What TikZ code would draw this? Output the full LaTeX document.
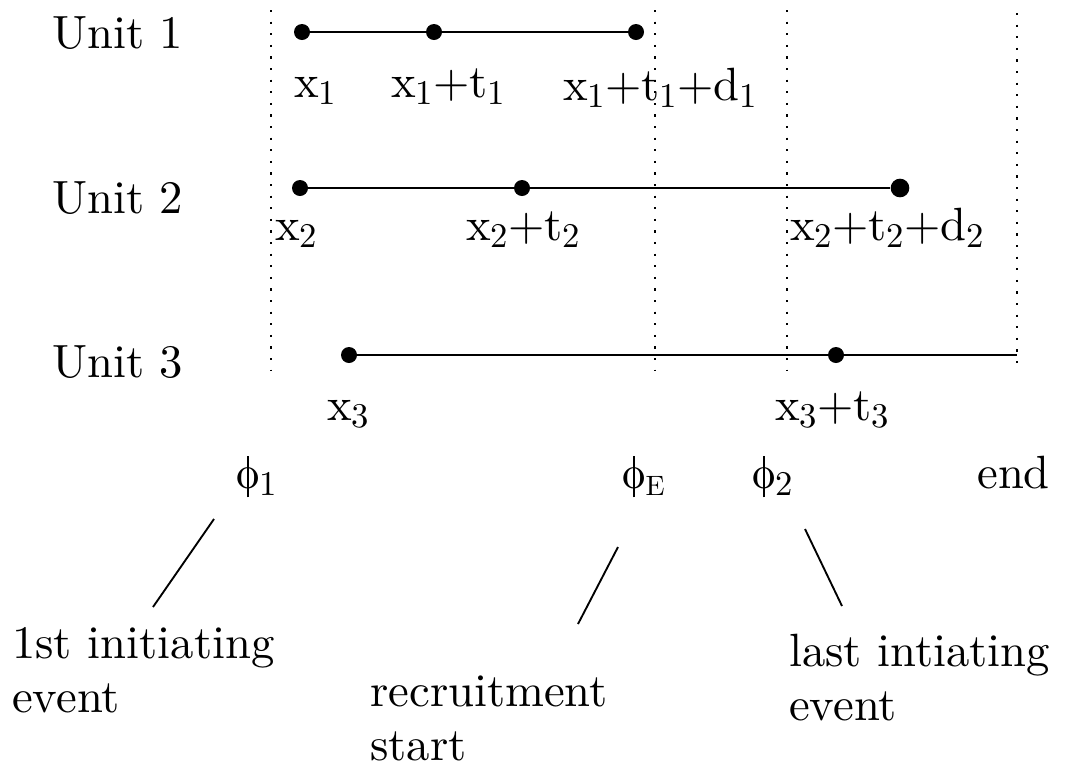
\documentclass[tikz,border=0pt]{standalone}
\usepackage{fontspec}
\setmainfont{lmroman10-regular.otf}
\newcommand\sbs[1]{\raisebox{-0.15em}{\fontsize{26}{26}\selectfont #1}}
\newcommand\phisym{\ooalign{o\cr\hidewidth\rule[-0.2em]{0.06em}{0.88em}\hidewidth\cr}}
\begin{document}
\begin{tikzpicture}[x=0.75pt,y=-0.75pt,
  lbl/.style={font=\fontsize{35}{35}\selectfont, inner sep=0pt, anchor=base west},
  blk/.style={font=\fontsize{35}{40.5}\selectfont, inner sep=0pt, anchor=base west, align=left},
  dot/.style={circle, fill=black, inner sep=0pt, minimum size=12pt},
  tl/.style={line width=2pt},
  vl/.style={line width=2.2pt, dash pattern=on 1.6pt off 7.1pt},
  pl/.style={line width=1.4pt}]
\useasboundingbox (0,0) rectangle (1066,769);
% vertical dotted lines
\coordinate (v1t) at (271,10);  \coordinate (v1b) at (271,370);
\coordinate (v2t) at (655,10);  \coordinate (v2b) at (655,370);
\coordinate (v3t) at (787,10);  \coordinate (v3b) at (787,370);
\coordinate (v4t) at (1017,13); \coordinate (v4b) at (1017,370);
\draw[vl] (v1t) -- (v1b);
\draw[vl] (v2t) -- (v2b);
\draw[vl] (v3t) -- (v3b);
\draw[vl] (v4t) -- (v4b);
% unit labels
\node[lbl] (u1) at (52,48) {Unit 1};
\node[lbl] (u2) at (52,213) {Unit 2};
\node[lbl] (u3) at (52,377) {Unit 3};
% unit 1
\node[dot] (a1) at (302,32) {};
\node[dot] (a2) at (434,32) {};
\node[dot] (a3) at (636,32) {};
\draw[tl] (a1) -- (a2) -- (a3);
\node[lbl] (la1) at (294,97) {x\sbs{1}};
\node[lbl] (la2) at (391,97) {x\sbs{1}+t\sbs{1}};
\node[lbl] (la3) at (563,100) {x\sbs{1}+t\sbs{1}+d\sbs{1}};
% unit 2
\node[dot] (b1) at (300,188) {};
\node[dot] (b2) at (522,188) {};
\node[dot, minimum size=14pt] (b3) at (900,188) {};
\draw[tl] (b1) -- (b2) -- (b3);
\node[lbl] (lb1) at (275,240) {x\sbs{2}};
\node[lbl] (lb2) at (466,240) {x\sbs{2}+t\sbs{2}};
\node[lbl] (lb3) at (790,240) {x\sbs{2}+t\sbs{2}+d\sbs{2}};
% unit 3
\node[dot] (c1) at (349,355) {};
\node[dot] (c2) at (836,355) {};
\coordinate (c3) at (1017,355);
\draw[tl] (c1) -- (c2) -- (c3);
\node[lbl] (lc1) at (327,420) {x\sbs{3}};
\node[lbl] (lc2) at (775,420) {x\sbs{3}+t\sbs{3}};
% phase labels
\node[lbl] (p1) at (236,488) {\phisym\sbs{1}};
\node[lbl] (pE) at (622,488) {\phisym\sbs{\fontsize{21}{21}\selectfont E}};
\node[lbl] (p2) at (752,488) {\phisym\sbs{2}};
\node[lbl] (pend) at (977,488) {end};
% descriptions (anchored at the baseline of their last line)
\node[blk] (d1) at (12,712) {1st initiating\\event};
\node[blk] (d2) at (370,760) {recruitment\\start};
\node[blk] (d3) at (789,720) {last intiating\\event};
% pointer lines
\coordinate (s1a) at (214,519); \coordinate (s1b) at (153,607);
\coordinate (s2a) at (618,547); \coordinate (s2b) at (578,624);
\coordinate (s3a) at (805,529); \coordinate (s3b) at (842,606);
\draw[pl] (s1a) -- (s1b);
\draw[pl] (s2a) -- (s2b);
\draw[pl] (s3a) -- (s3b);
\end{tikzpicture}
\end{document}
